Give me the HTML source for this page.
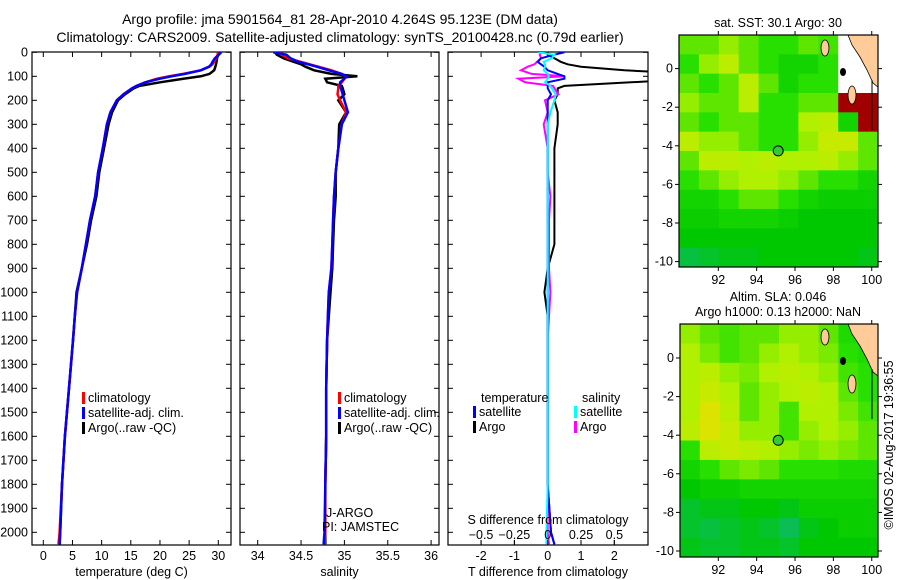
<!DOCTYPE html>
<html><head><meta charset="utf-8"><style>
body{margin:0;background:#fff}
svg{display:block;font-family:"Liberation Sans",sans-serif;font-size:12.5px}
</style></head><body>
<svg id="c" width="900" height="580" viewBox="0 0 900 580" xmlns="http://www.w3.org/2000/svg">
<text x="340" y="24" text-anchor="middle" font-size="14">Argo profile: jma 5901564_81 28-Apr-2010 4.264S 95.123E (DM data)</text>
<text x="340" y="42" text-anchor="middle" font-size="14">Climatology: CARS2009. Satellite-adjusted climatology: synTS_20100428.nc (0.79d earlier)</text>
<g id="maps"></g>
<g id="plots"></g>
<text transform="translate(893,445) rotate(-90)" text-anchor="middle">©IMOS 02-Aug-2017 19:36:55</text>
</svg>
<script>
// ---- profile data ----
const depths = [0,10,25,40,50,60,75,90,100,110,125,140,150,175,200,250,300,400,500,600,700,800,900,1000,1100,1200,1400,1600,1800,2000,2050];
const climT = [30,29.9,29.6,29.3,29,28.5,27,24,21.5,19.5,17.5,16,15.2,13.7,12.6,11.5,10.9,10.2,9.4,8.9,8,7.3,6.6,5.8,5.4,5.1,4.4,3.7,3.2,2.8,2.6];
const satT = [30.5,30.1,29.4,29.0,28.8,28.4,27,24.3,22,20,17.5,16,15.2,13.8,12.6,11.5,10.9,10.2,9.4,8.9,8,7.3,6.6,5.8,5.4,5.1,4.4,3.7,3.2,2.9,2.8];
const argoT = [30,29.9,29.8,29.7,29.6,29.5,29.3,28.5,27,24,20,16.5,15.5,14,12.8,11.8,11.2,10.4,9.6,9.1,8.2,7.5,6.6,5.7,5.4,5.1,4.4,3.7,3.2,2.9,2.8];
const climS = [34.25,34.28,34.35,34.5,34.6,34.7,34.85,34.97,35.02,35.0,34.97,34.93,34.93,34.92,34.95,35.02,34.97,34.93,34.9,34.88,34.87,34.86,34.85,34.82,34.81,34.8,34.79,34.79,34.78,34.78,34.77];
const satS = [34.18,34.33,34.38,34.47,34.58,34.68,34.82,34.97,35.03,35.0,34.95,34.95,34.96,34.98,35.0,35.04,34.97,34.93,34.9,34.88,34.87,34.86,34.85,34.82,34.81,34.8,34.79,34.79,34.78,34.77,34.76];
const argoS = [34.2,34.22,34.3,34.42,34.5,34.55,34.65,34.85,35.15,34.78,34.8,34.97,34.98,35.0,34.93,35.02,34.94,34.93,34.9,34.9,34.88,34.87,34.86,34.84,34.82,34.8,34.79,34.79,34.78,34.78,34.78];
const depthTicks = [0,100,200,300,400,500,600,700,800,900,1000,1100,1200,1300,1400,1500,1600,1700,1800,1900,2000];
const tempTicks = [0,5,10,15,20,25,30];
const salTicks = [34,34.5,35,35.5,36];
const tdiffTicks = [-2,-1,0,1,2];
const sdiffTicks = [-0.5,-0.25,0,0.25,0.5];
// ---- map data (rows lat top->bottom, cols lon left->right; -1 = no data, -2 = flagged) ----
const sstGrid = [
[.6,.6,.7,.6,.5,.5,.6,.55,-1,-1],
[.5,.7,.8,.6,.5,.4,.4,.5,-1,-1],
[.6,.5,.6,.8,.6,.4,.5,.5,-1,-1],
[.7,.6,.6,.8,.5,.5,.6,.6,-2,-2],
[.6,.5,.6,.6,.5,.5,.75,.8,.4,-2],
[.8,.7,.7,.6,.5,.5,.7,.85,.85,.6],
[.6,.8,.8,.75,.8,.75,.75,.8,.7,.6],
[.5,.6,.7,.75,.75,.7,.6,.5,.5,.4],
[.4,.4,.5,.6,.6,.5,.4,.35,.35,.35],
[.35,.35,.4,.4,.4,.35,.3,.3,.3,.3],
[.3,.3,.3,.3,.3,.3,.3,.3,.3,.3],
[.15,.2,.25,.25,.3,.3,.3,.3,.3,.25]];
const slaGrid = [
[.7,.6,.55,.6,.6,.7,.7,.6,.45,.45],
[.75,.65,.55,.6,.7,.75,.7,.65,.5,.45],
[.75,.8,.7,.65,.75,.8,.75,.7,.55,.5],
[.75,.85,.75,.6,.7,.75,.8,.75,.6,.5],
[.75,.95,.8,.6,.7,.55,.75,.75,.65,.55],
[.8,.95,.85,.7,.7,.55,.7,.75,.7,.6],
[.5,.8,.85,.8,.75,.7,.65,.7,.65,.6],
[.4,.5,.6,.65,.6,.5,.5,.5,.45,.45],
[.3,.35,.35,.4,.4,.4,.4,.4,.4,.4],
[.2,.25,.25,.3,.3,.25,.35,.35,.35,.35],
[.2,.15,.2,.25,.2,.1,.25,.3,.35,.35],
[.25,.2,.2,.25,.25,.2,.3,.3,.3,.3]];
const lonTicks = [92,94,96,98,100];
const latTicks = [0,-2,-4,-6,-8,-10];
const floatPos = [95.123,-4.264];

const NS='http://www.w3.org/2000/svg';
function mk(tag,attrs,parent,text){const e=document.createElementNS(NS,tag);for(const k in attrs)e.setAttribute(k,attrs[k]);if(text!==undefined)e.textContent=text;parent.appendChild(e);return e;}
const plots=document.getElementById('plots');
const pTop=52,pBot=545;
const yD=d=>52.3+d*0.24;

function panel(name,x0,x1,xs,xt,xlab,showY){
  const g=mk('g',{},plots);
  
  
  const cp='clip-'+name;
  const cl=mk('clipPath',{id:cp},g);mk('rect',{x:x0,y:pTop,width:x1-x0,height:pBot-pTop},cl);
  const frame=mk('rect',{x:x0,y:pTop,width:x1-x0,height:pBot-pTop,fill:'none',stroke:'#000','stroke-width':1.2},g);
  
  
  depthTicks.forEach(d=>{
    mk('line',{x1:x0,x2:x0+5,y1:yD(d),y2:yD(d),stroke:'#000'},g);
    mk('line',{x1:x1-5,x2:x1,y1:yD(d),y2:yD(d),stroke:'#000'},g);
    if(showY){const t=mk('text',{x:x0-4,y:yD(d)+4,'text-anchor':'end'},g,String(d));}
  });
  xt.forEach(v=>{
    mk('line',{x1:xs(v),x2:xs(v),y1:pBot,y2:pBot-5,stroke:'#000'},g);
    mk('line',{x1:xs(v),x2:xs(v),y1:pTop,y2:pTop+5,stroke:'#000'},g);
    const t=mk('text',{x:xs(v),y:pBot+15,'text-anchor':'middle'},g,String(v));
    
    
  });
  const xl=mk('text',{x:(x0+x1)/2,y:pBot+31,'text-anchor':'middle'},g,xlab);
  
  
  const lg=mk('g',{'clip-path':'url(#'+cp+')'},g);
  return lg;
}
function series(g,vals,xs,color,name,w){
  const pts=depths.map((d,i)=>xs(vals[i]).toFixed(1)+','+yD(d).toFixed(1)).join(' ');
  const p=mk('polyline',{points:pts,fill:'none',stroke:color,'stroke-width':w||2.5},g);
  
  
}
function legend(items,x,y){
  items.forEach((it,i)=>{
    mk('rect',{x:x,y:y+i*15-10,width:3,height:12,fill:it[1]},plots);
    const t=mk('text',{x:x+6,y:y+i*15},plots,it[0]);
    
    
  });
}
// temperature
const xT=v=>43.3+v*5.833;
let g1=panel('temperature-panel',32,231,xT,tempTicks,'temperature (deg C)',true);
series(g1,argoT,xT,'#000','argo-temperature-line');
series(g1,climT,xT,'#f00','clim-temperature-line');
series(g1,satT,xT,'#00f','sat-temperature-line');
legend([['climatology','#f00'],['satellite-adj. clim.','#00f'],['Argo(..raw -QC)','#000']],82,402);
// salinity
const xS=v=>257.7+(v-34)*86.7;
let g2=panel('salinity-panel',240,439,xS,salTicks,'salinity',false);
series(g2,argoS,xS,'#000','argo-salinity-line');
series(g2,climS,xS,'#f00','clim-salinity-line');
series(g2,satS,xS,'#00f','sat-salinity-line');
legend([['climatology','#f00'],['satellite-adj. clim.','#00f'],['Argo(..raw -QC)','#000']],338,402);
mk('text',{x:326,y:517},plots,'J-ARGO');
mk('text',{x:322,y:531},plots,'PI: JAMSTEC');
// differences
const xTd=v=>547.7+v*33.3;
const xSd=v=>547.7+v*133.3;
let g3=panel('difference-panel',448,648,xTd,tdiffTicks,'T difference from climatology',false);
sdiffTicks.forEach(v=>{
  mk('line',{x1:xSd(v),x2:xSd(v),y1:pBot,y2:pBot-5,stroke:'#000'},plots);
  const t=mk('text',{x:xSd(v),y:539,'text-anchor':'middle'},plots,String(v).replace('-','−'));
  
  
});
mk('text',{x:548,y:524,'text-anchor':'middle'},plots,'S difference from climatology');
const dT=argoT.map((v,i)=>v-climT[i]), dTs=satT.map((v,i)=>v-climT[i]);
const dS=argoS.map((v,i)=>v-climS[i]), dSs=satS.map((v,i)=>v-climS[i]);
series(g3,dT,xTd,'#000','argo-t-diff-line',2);
series(g3,dS,xSd,'#f0f','argo-s-diff-line',2);
series(g3,dTs,xTd,'#00f','sat-t-diff-line',2);
series(g3,dSs,xSd,'#0ff','sat-s-diff-line',2);
mk('text',{x:481,y:402},plots,'temperature');
mk('text',{x:582,y:402},plots,'salinity');
legend([['satellite','#00f'],['Argo','#000']],473,416);
legend([['satellite','#0ff'],['Argo','#f0f']],574,416);

// ---- maps ----
const maps=document.getElementById('maps');
function col(v){
  if(v===-1)return '#fff';
  if(v===-2)return '#a00000';
  const stops=[[0,[16,184,128]],[.3,[0,200,0]],[.5,[40,224,0]],[.75,[176,240,0]],[1,[232,224,0]]];
  for(let i=1;i<stops.length;i++){if(v<=stops[i][0]){const a=stops[i-1],b=stops[i],t=(v-a[0])/(b[0]-a[0]);return 'rgb('+a[1].map((c,k)=>Math.round(c+(b[1][k]-c)*t)).join(',')+')';}}
  return 'rgb(232,224,0)';
}
function mapPanel(name,grid,x0,y0,x1,y1,lat0y,title){
  const g=mk('g',{},maps);
  
  
  const lonX=l=>718.3+(l-92)*19.18;
  const latY=l=>lat0y-l*19.3;
  const rows=grid.length,cols=grid[0].length,cw=(x1-x0)/cols,ch=(y1-y0)/rows;
  grid.forEach((r,i)=>r.forEach((v,j)=>{
    const c=mk('rect',{x:x0+j*cw,y:y0+i*ch,width:cw+0.5,height:ch+0.5,fill:col(v)},g);
    
    
  }));
  // land
  mk('polygon',{points:[[848,y0],[x1,y0],[x1,y0+52],[873,y0+48],[867,y0+35],[860,y0+22],[852,y0+10]].map(p=>p.join(',')).join(' '),fill:'#ffcc99',stroke:'#000','stroke-width':0.8},g);
  mk('ellipse',{cx:825,cy:y0+13,rx:4,ry:8,fill:'#ffcc99',stroke:'#000','stroke-width':0.8},g);
  mk('ellipse',{cx:852,cy:y0+60,rx:4,ry:9,fill:'#ffcc99',stroke:'#000','stroke-width':0.8},g);
  mk('ellipse',{cx:843,cy:y0+37,rx:3,ry:4,fill:'#000'},g);
  mk('line',{x1:872,x2:872,y1:y0+45,y2:y0+95,stroke:'#000'},g);
  mk('rect',{x:x0,y:y0,width:x1-x0,height:y1-y0,fill:'none',stroke:'#000','stroke-width':1.2},g);
  lonTicks.forEach(l=>{
    mk('line',{x1:lonX(l),x2:lonX(l),y1:y0,y2:y0-4,stroke:'#000'},g);
    mk('line',{x1:lonX(l),x2:lonX(l),y1:y1,y2:y1+4,stroke:'#000'},g);
    const t=mk('text',{x:lonX(l),y:y1+17,'text-anchor':'middle'},g,String(l));
    
    
  });
  latTicks.forEach(l=>{
    mk('line',{x1:x0,x2:x0-4,y1:latY(l),y2:latY(l),stroke:'#000'},g);
    mk('line',{x1:x1,x2:x1+4,y1:latY(l),y2:latY(l),stroke:'#000'},g);
    const t=mk('text',{x:x0-6,y:latY(l)+4,'text-anchor':'end'},g,String(l));
    
    
  });
  const m=mk('circle',{cx:lonX(floatPos[0]),cy:latY(floatPos[1]),r:5,fill:'#3c3',stroke:'#000'},g);
  
  
  title.forEach((tx,i)=>{
    const t=mk('text',{x:778,y:y0-(title.length-1-i)*15-8,'text-anchor':'middle'},g,tx);
    
    
  });
}
mapPanel('sst-map',sstGrid,679,35,878,267,68.6,['sat. SST: 30.1  Argo: 30']);
mapPanel('sla-map',slaGrid,680,324,878,557,358,['Altim. SLA: 0.046','Argo h1000: 0.13 h2000: NaN']);
</script>
</body></html>
